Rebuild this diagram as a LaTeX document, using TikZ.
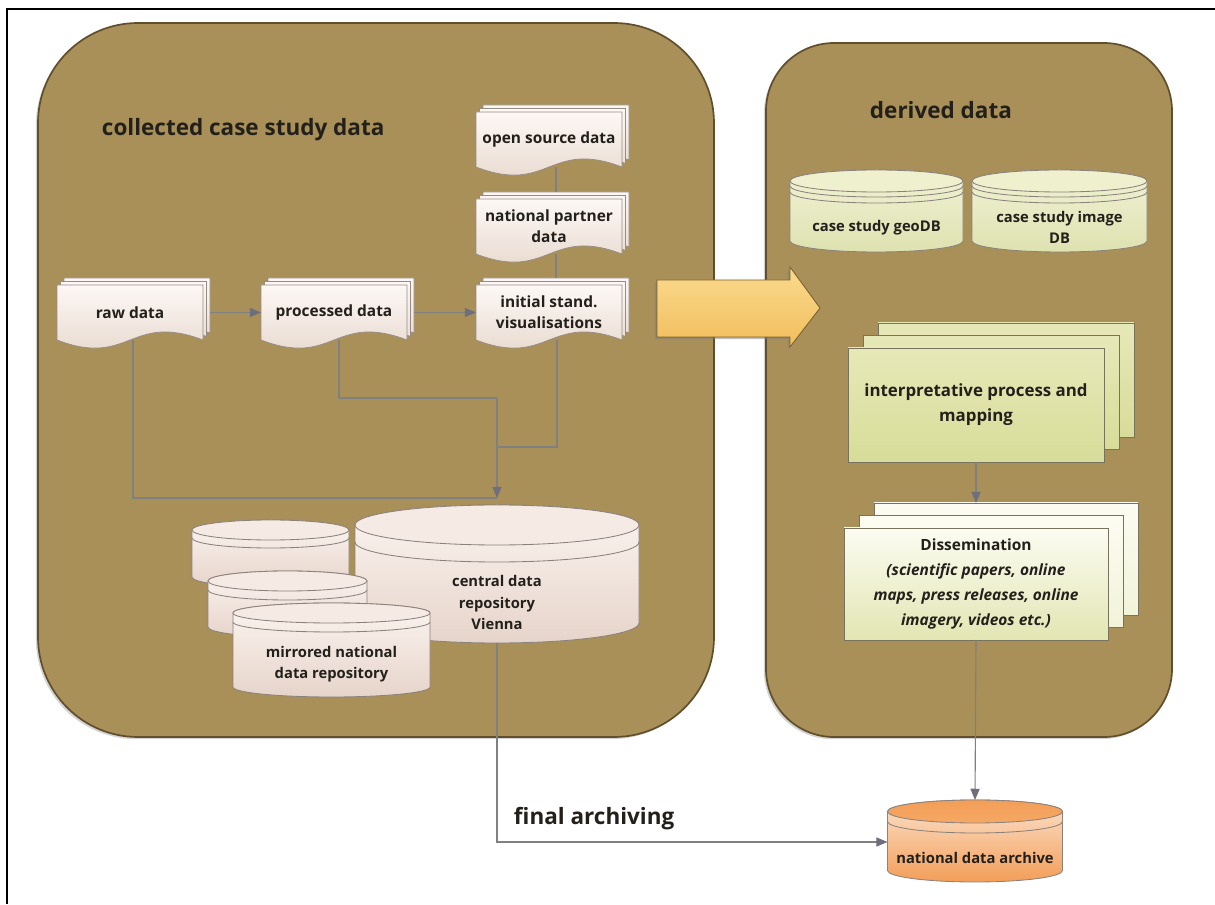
\documentclass[tikz,border=0pt]{standalone}
\usepackage{fontspec}
\setmainfont{Open Sans}
\usetikzlibrary{arrows.meta, shadows}

\newcommand{\pxu}{0.25mm}

\definecolor{panelfill}{RGB}{168,144,88}
\definecolor{paneledge}{RGB}{96,78,44}
\definecolor{ink}{RGB}{35,32,28}
\definecolor{doctop}{RGB}{253,248,245}
\definecolor{docbot}{RGB}{228,212,200}
\definecolor{docedge}{RGB}{150,140,135}
\definecolor{drumedge}{RGB}{140,130,125}
\definecolor{pinkA}{RGB}{252,245,241}
\definecolor{pinkB}{RGB}{230,212,202}
\definecolor{pinkC}{RGB}{246,234,228}
\definecolor{greenA}{RGB}{240,242,212}
\definecolor{greenB}{RGB}{222,226,176}
\definecolor{greenC}{RGB}{238,240,206}
\definecolor{orangeA}{RGB}{252,226,204}
\definecolor{orangeB}{RGB}{243,158,88}
\definecolor{orangeC}{RGB}{245,168,100}
\definecolor{interpA}{RGB}{230,233,183}
\definecolor{interpB}{RGB}{216,220,153}
\definecolor{disA}{RGB}{252,252,242}
\definecolor{disB}{RGB}{226,230,178}
\definecolor{sheetedge}{RGB}{120,115,95}
\definecolor{arrowA}{RGB}{250,218,142}
\definecolor{arrowB}{RGB}{242,190,92}
\definecolor{arrowedge}{RGB}{120,95,45}
\definecolor{linkgrey}{RGB}{128,128,128}
\definecolor{tipgrey}{RGB}{110,110,125}

\pgfdeclarelayer{background}
\pgfsetlayers{background,main}

% three sheets with a wavy lower edge behind node #1
\newcommand{\docstack}[1]{%
  \foreach \o in {7,3.5,0}
    \path[docpage] ([shift={(\o,\o)}]#1.north west) -- ([shift={(\o,\o)}]#1.north east)
      -- ([shift={(\o,\o)}]#1.south east) .. controls +(-73,28) and +(73,-28) .. ([shift={(\o,\o)}]#1.south west) -- cycle;
}
% drum behind node #1: x radius, y radius, gap lid-ellipse, colour set
\newcommand{\drum}[5]{%
  \path[#5body] ([shift={(0,{#3+#4})}]#1.north west) -- ([shift={(0,#3)}]#1.south west)
    arc[start angle=180, end angle=360, x radius=#2, y radius=#3]
    -- ([shift={(0,{#3+#4})}]#1.north east)
    arc[start angle=0, end angle=180, x radius=#2, y radius=#3] -- cycle;
  \path[#5top] ([shift={(0,{#3+#4})}]#1.north) ellipse[x radius=#2, y radius=#3];
  \draw[dbline] ([shift={(0,#3)}]#1.north west) arc[start angle=180, end angle=360, x radius=#2, y radius=#3];
}
\newcommand{\lidline}[4]{%
  \draw[dbline] ([shift={(0,{#3+#4})}]#1.north west) arc[start angle=180, end angle=360, x radius=#2, y radius=#3];
}
% two sheets behind node #1
\newcommand{\sheetstack}[2]{%
  \foreach \o/\q in {30/25,15/12.5}
    \path[#2] ([shift={(\o,\q)}]#1.south west) rectangle ([shift={(\o,\q)}]#1.north east);
}

\begin{document}
\begin{tikzpicture}[x=0.25mm, y=0.25mm,
    lbl/.style={font=\bfseries\fontsize{10.5}{15}\selectfont, text=ink, align=center},
    heading/.style={font=\bfseries\fontsize{16}{19}\selectfont, text=ink},
    doc/.style={lbl, font=\bfseries\fontsize{11}{15}\selectfont, minimum width=146*\pxu, minimum height=55*\pxu, inner sep=1pt, outer sep=0pt},
    docpage/.style={draw=docedge, line width=0.5pt, top color=doctop, bottom color=docbot},
    drum/.style={lbl, inner sep=1pt, outer sep=0pt},
    dbline/.style={draw=drumedge, line width=0.6pt},
    pinkbody/.style={dbline, top color=pinkA, bottom color=pinkB},
    pinktop/.style={dbline, fill=pinkC},
    greenbody/.style={dbline, top color=greenA, bottom color=greenB},
    greentop/.style={dbline, fill=greenC},
    orangebody/.style={dbline, top color=orangeA, bottom color=orangeB},
    orangetop/.style={dbline, top color=orangeB, bottom color=orangeC},
    sheet/.style={draw=sheetedge, line width=0.6pt, outer sep=0pt, align=center, text=ink},
    interpsheet/.style={sheet, top color=interpA, bottom color=interpB},
    interpback/.style={sheet, top color=interpA, bottom color=interpB},
    dissheet/.style={sheet, top color=disA, bottom color=disB},
    disback/.style={sheet, top color=disA, bottom color=disA!60!disB},
    panel/.style={fill=panelfill, draw=paneledge, line width=1.2pt,
      drop shadow={shadow xshift=-1.5pt, shadow yshift=-1.5pt, opacity=0.35}},
    bigarrow/.style={draw=arrowedge, line width=0.6pt, top color=arrowA, bottom color=arrowB,
      drop shadow={shadow xshift=-1.5pt, shadow yshift=-1.5pt, opacity=0.5}},
    link/.style={draw=linkgrey, line width=0.8pt},
    flow/.style={link, -{Triangle[length=8pt, width=6.5pt, color=tipgrey]}}
  ]
  \useasboundingbox (0,0) rectangle (1215,904);
  \draw[line width=1.3pt] (7,0) -- (7,895) -- (1215,895);

  \begin{pgfonlayer}{background}
    \path[panel, rounded corners=25mm] (38,167) rectangle (714,881);
    \path[panel, rounded corners=17mm] (766,167) rectangle (1172,861);
  \end{pgfonlayer}

  % documents
  \node[doc] (open) at (549,764.5) {open source data};
  \node[doc] (natl) at (549,677.5) {national partner\\data};
  \node[doc] (init) at (549,591.5) {initial stand.\\visualisations};
  \node[doc] (raw) at (130,591.5) {raw data};
  \node[doc] (proc) at (334,591.5) {processed data};

  % repositories
  \node[drum, minimum width=284*\pxu, minimum height=81*\pxu] (cdr) at (497,301.5) {central data\\repository\\Vienna};
  \node[drum, minimum width=157*\pxu, minimum height=39*\pxu] (mira) at (270.5,336.5) {};
  \node[drum, minimum width=159*\pxu, minimum height=37*\pxu] (mirb) at (287.5,285.5) {};
  \node[drum, minimum width=197*\pxu, minimum height=65*\pxu] (mirc) at (331.5,239.5) {mirrored national\\data repository};
  \node[drum, minimum width=173*\pxu, minimum height=49*\pxu] (geo) at (876.5,676.5) {case study geoDB};
  \node[drum, minimum width=175*\pxu, minimum height=49*\pxu] (img) at (1059.5,676.5) {case study image\\DB};
  \node[drum, minimum width=175*\pxu, minimum height=49*\pxu] (arch) at (975,46.5) {national data archive};

  % derived products
  \node[interpsheet, minimum width=256*\pxu, minimum height=114*\pxu,
    font=\bfseries\fontsize{12}{17.8}\selectfont] (interp) at (976,499) {interpretative process and\\mapping};
  \node[dissheet, minimum width=264*\pxu, minimum height=112*\pxu,
    font=\bfseries\fontsize{11}{17.8}\selectfont] (dis) at (976,320)
    {Dissemination\\\itshape(scientific papers, online\\\itshape maps, press releases, online\\\itshape imagery, videos etc.)};

  % headings
  \node[heading, anchor=west] (ttlc) at (97,774) {collected case study data};
  \node[heading, anchor=west] (ttld) at (865,794) {derived data};
  \node[heading, anchor=base west] (farch) at (509,79) {final archiving};

  \begin{pgfonlayer}{background}
    \foreach \n in {open,natl,init,raw,proc} {\docstack{\n}}
    \drum{cdr}{142}{20}{17}{pink}
    \drum{mira}{78.5}{10}{8}{pink}
    \drum{mirb}{79.5}{10}{9}{pink}
    \drum{mirc}{98.5}{10}{9}{pink}
    \drum{geo}{86.5}{11}{11}{green}
    \lidline{geo}{86.5}{11}{6}
    \drum{img}{87.5}{11}{11}{green}
    \lidline{img}{87.5}{11}{6}
    \drum{arch}{87.5}{11.5}{10}{orange}
    \sheetstack{interp}{interpback}
    \sheetstack{dis}{disback}
  \end{pgfonlayer}

  % connectors
  \coordinate (hub1) at (497,506);
  \coordinate (hub2) at (497,457);
  \coordinate (hub3) at (497,406);
  \draw[link] ([shift={(7,0)}]open.south) -- ([shift={(7,7)}]natl.north);
  \draw[link] ([shift={(7,0)}]natl.south) -- ([shift={(7,7)}]init.north);
  \draw[flow] ([shift={(7,0)}]raw.east) -- (proc.west);
  \draw[flow] ([shift={(7,0)}]proc.east) -- (init.west);
  \draw[link] ([shift={(3,0)}]raw.south) |- (hub3);
  \draw[link] ([shift={(5,0)}]proc.south) |- (hub1);
  \draw[link] ([shift={(8,0)}]init.south) |- (hub2);
  \draw[flow] (hub1) -- ([shift={(0,64)}]cdr.north);
  \draw[flow] (cdr.south) |- ([shift={(0,15.5)}]arch.west);
  \draw[flow] (interp.south) -- ([shift={(0,25)}]dis.north);
  \draw[flow] (dis.south) -- ([shift={(0,33)}]arch.north);

  % transfer arrow
  \path[bigarrow] (657,624) -- (790,624) -- (790,637) -- (820,596) -- (790,557) -- (790,567) -- (657,567) -- cycle;
\end{tikzpicture}
\end{document}
